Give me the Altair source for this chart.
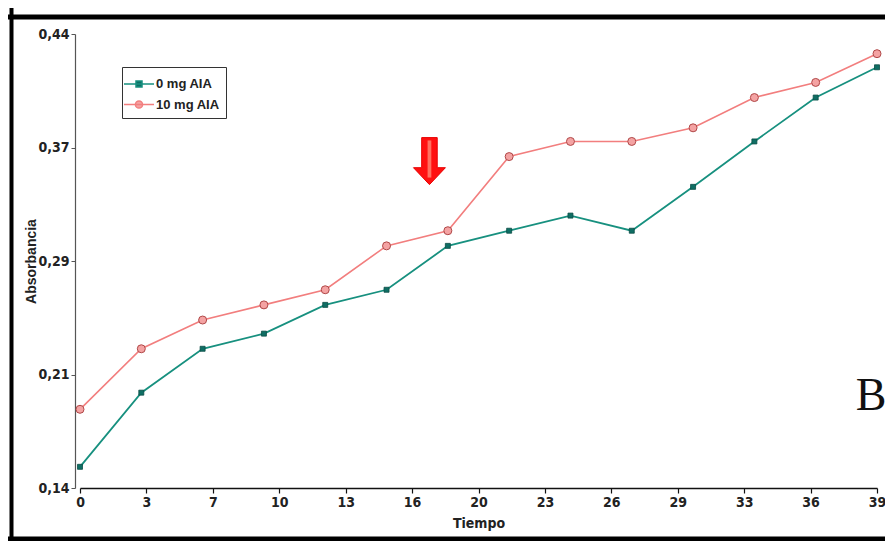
import altair as alt
import pandas as pd

# ---------------- data ----------------
tiempo = [0, 3, 6, 9, 12, 15, 18, 21, 24, 27, 30, 33, 36, 39]
abs_0mg = [0.154, 0.203, 0.232, 0.242, 0.261, 0.271, 0.300, 0.310, 0.320, 0.310, 0.339, 0.369, 0.398, 0.418]
abs_10mg = [0.192, 0.232, 0.251, 0.261, 0.271, 0.300, 0.310, 0.359, 0.369, 0.369, 0.378, 0.398, 0.408, 0.427]
series_names = ["0 mg AIA", "10 mg AIA"]

y_tick_values = [0.14, 0.215, 0.29, 0.365, 0.44]
y_tick_labels = ["0,14", "0,21", "0,29", "0,37", "0,44"]
x_tick_labels = ["0", "3", "7", "10", "13", "16", "20", "23", "26", "29", "33", "36", "39"]
x_tick_values = [39 * i / 12 for i in range(13)]

arrow_x = [17.1]
arrow_y = [0.356]

# ---------------- styling ----------------
NARROW = "Liberation Sans Narrow, Arial Narrow, DejaVu Sans Condensed, Liberation Sans, sans-serif"
SANS = "Liberation Sans, Arial, sans-serif"
TEAL_LINE = "#17907f"
TEAL_FILL = "#0f6e64"
TEAL_EDGE = "#0b4c45"
PINK_LINE = "#f27e7e"
PINK_FILL = "#f4a3a3"
PINK_EDGE = "#b04848"

df = pd.DataFrame({
    "x": tiempo * 2,
    "y": abs_0mg + abs_10mg,
    "serie": [series_names[0]] * len(tiempo) + [series_names[1]] * len(tiempo),
})
arrow_df = pd.DataFrame({"x": arrow_x, "y": arrow_y})
one = pd.DataFrame({"a": [0]})


def js_list(v):
    return "[" + ",".join(repr(s) if isinstance(s, str) else str(s) for s in v) + "]"


x_axis = alt.Axis(
    values=x_tick_values,
    labelExpr=f"{js_list(x_tick_labels)}[indexof({js_list(x_tick_values)}, datum.value)]",
    grid=False, domainColor="#111", domainWidth=1.6, tickColor="#111", tickWidth=1.2,
    tickSize=5, labelFont=NARROW, labelFontSize=14, labelFontWeight="bold",
    labelColor="#222", labelPadding=2, labelFlush=False, labelOverlap=False,
    titleFont=NARROW, titleFontSize=14, titleFontWeight="bold", titleColor="#222",
    titlePadding=7,
)
y_axis = alt.Axis(
    values=y_tick_values,
    labelExpr=f"{js_list(y_tick_labels)}[indexof({js_list(y_tick_values)}, datum.value)]",
    grid=False, offset=5, domainColor="#555", domainWidth=1.2, tickColor="#555",
    tickSize=4, labelFont=NARROW, labelFontSize=14, labelFontWeight="bold",
    labelColor="#222", labelPadding=2, labelFlush=False, labelOverlap=False,
    titleFont=SANS, titleFontSize=14, titleFontWeight="bold", titleColor="#222",
    titlePadding=-1,
)

x_enc = alt.X("x:Q", title="Tiempo", scale=alt.Scale(domain=[0, 39], nice=False, zero=False), axis=x_axis)
y_enc = alt.Y("y:Q", title="Absorbancia", scale=alt.Scale(domain=[0.14, 0.44], nice=False, zero=False), axis=y_axis)

base = alt.Chart(df).encode(x=x_enc, y=y_enc)

line0 = base.transform_filter(alt.datum.serie == series_names[0]).mark_line(color=TEAL_LINE, strokeWidth=1.8)
line1 = base.transform_filter(alt.datum.serie == series_names[1]).mark_line(color=PINK_LINE, strokeWidth=1.6)
pts0 = base.transform_filter(alt.datum.serie == series_names[0]).mark_point(
    shape="square", size=25, filled=True, fill=TEAL_FILL, stroke=TEAL_EDGE, strokeWidth=0.8, opacity=1)
pts1 = base.transform_filter(alt.datum.serie == series_names[1]).mark_point(
    shape="circle", size=64, filled=True, fill=PINK_FILL, stroke=PINK_EDGE, strokeWidth=1, opacity=1)

# legend-only layer (no items drawn)
sym_sq = "M-1.5,0H1.5M-0.3,-0.3H0.3V0.3H-0.3Z"
sym_ci = "M-1.5,0H1.5M-0.36,0A0.36,0.36 0 1,0 0.36,0A0.36,0.36 0 1,0 -0.36,0Z"
leg = alt.Legend(title=None)
legend_layer = alt.Chart(df).transform_filter("false").mark_point(filled=True, size=400, opacity=1, strokeWidth=1.5).encode(
    x=x_enc, y=y_enc,
    shape=alt.Shape("serie:N", scale=alt.Scale(domain=series_names, range=[sym_sq, sym_ci]), legend=leg),
    fill=alt.Fill("serie:N", scale=alt.Scale(domain=series_names, range=[TEAL_FILL, PINK_FILL]), legend=leg),
    stroke=alt.Stroke("serie:N", scale=alt.Scale(domain=series_names, range=[TEAL_LINE, PINK_LINE]), legend=leg),
)

# red arrow annotation
arrow_path = "M-0.33,-1H0.33V0.28H0.68L0,1L-0.68,0.28H-0.33Z"
stripe_path = "M-0.08,-0.88H0.08V0.7H-0.08Z"
arrow = alt.Chart(arrow_df).mark_point(shape=arrow_path, size=2209, filled=True, fill="#ff1010",
                                       stroke="#e80000", strokeWidth=1, opacity=1).encode(x=x_enc, y=y_enc)
stripe = alt.Chart(arrow_df).mark_point(shape=stripe_path, size=2209, filled=True, fill="#ff7060",
                                        strokeWidth=0, opacity=1).encode(x=x_enc, y=y_enc)

# panel letter
letter = alt.Chart(one).mark_text(text="B", font="Liberation Serif, Times New Roman, serif", fontSize=46,
                                  align="center", baseline="alphabetic", color="#111").encode(
    x=alt.value(791), y=alt.value(376))

# frame borders of the figure panel
left_border = alt.Chart(one).mark_rule(color="#000", strokeWidth=4).encode(
    x=alt.value(-68.5), y=alt.value(-26), y2=alt.value(507))
top_border = alt.Chart(one).mark_rule(color="#000", strokeWidth=5).encode(
    x=alt.value(-72), x2=alt.value(805), y=alt.value(-17))
bottom_border = alt.Chart(one).mark_rule(color="#000", strokeWidth=5).encode(
    x=alt.value(-72), x2=alt.value(805), y=alt.value(505))

chart = alt.layer(
    line0, line1, pts0, pts1, legend_layer, arrow, stripe, letter, left_border, top_border, bottom_border
).properties(
    width=797, height=454,
    autosize=alt.AutoSizeParams(type="none"),
    padding={"left": 72, "top": 26, "right": 8, "bottom": 53},
).configure_view(stroke=None).configure_legend(
    orient="none", legendX=42, legendY=33, padding=6, rowPadding=2.5,
    symbolSize=400, symbolStrokeWidth=1.5, labelOffset=6,
    labelFont=SANS, labelFontSize=13, labelFontWeight="bold", labelColor="#222",
    strokeColor="#333", fillColor="#ffffff",
)

chart.save("out.html", embed_options={"renderer": "svg", "actions": False})
